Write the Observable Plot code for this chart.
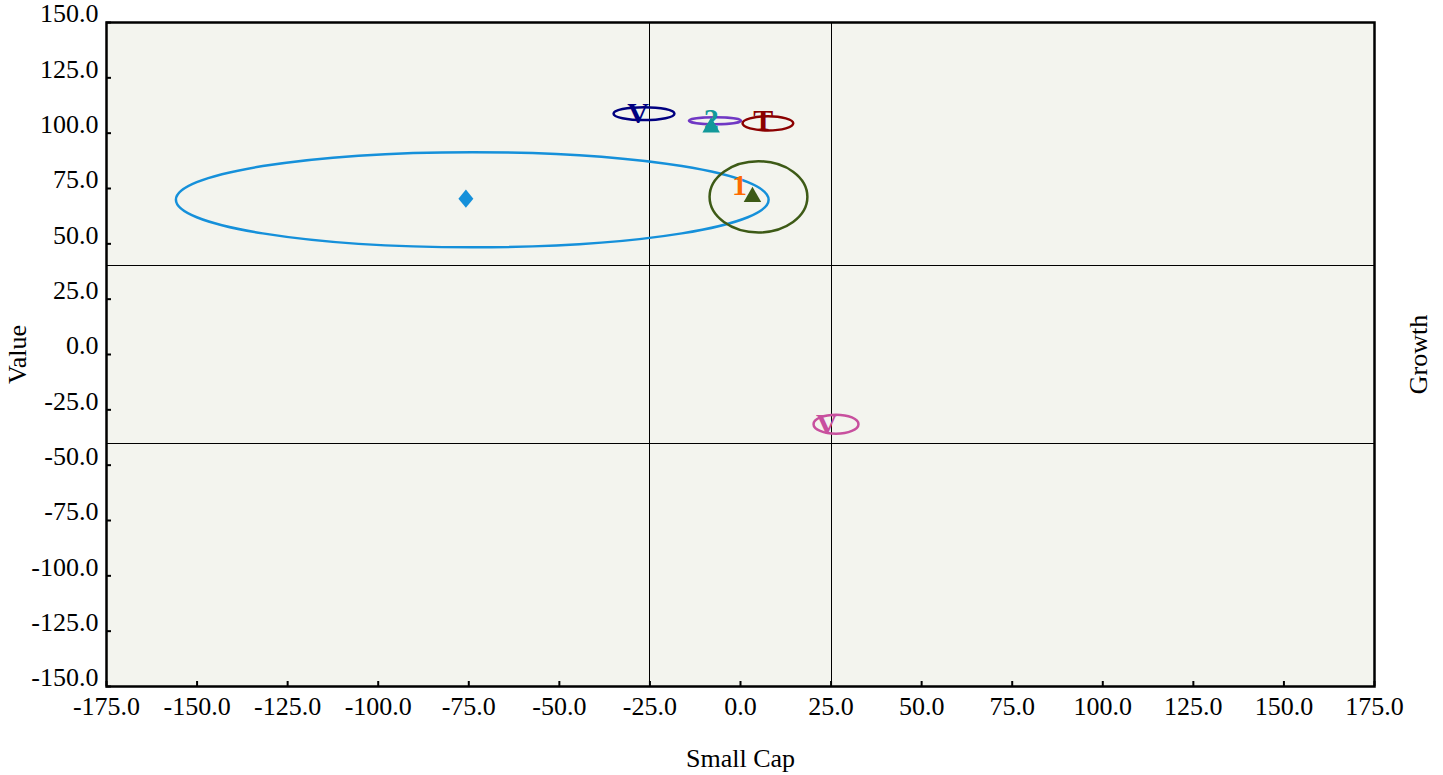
<!DOCTYPE html>
<html>
<head>
<meta charset="utf-8">
<script src="https://cdn.jsdelivr.net/npm/d3@7"></script>
<script src="https://cdn.jsdelivr.net/npm/@observablehq/plot@0.6"></script>
<style>
  html, body { margin: 0; padding: 0; background: #ffffff; }
  #chart svg { display: block; }
</style>
</head>
<body>
<div id="chart"></div>
<script>
// ---- data ----
const xTicks = [-175, -150, -125, -100, -75, -50, -25, 0, 25, 50, 75, 100, 125, 150, 175];
const yTicks = [-150, -125, -100, -75, -50, -25, 0, 25, 50, 75, 100, 125, 150];
const refX = [-25, 25];
const refY = [40, -40];

const seriesNames  = ["blue", "olive", "orange", "navy", "purple", "darkred", "pink", "teal"];
const seriesColors = ["#1590da", "#3d5a16", "#ff6a00", "#000080", "#7038c4", "#8b0000", "#c8509e", "#13999a"];
const seriesMarker = ["diamond", "triangle", "1", "V", "", "T", "V", "2"];
const markerX = [-75.8, 3.3, -0.3, -28.3, null, 6.3, 23.8, -8.1];
const markerY = [70.4, 71.2, 76.5, 108.8, null, 105.9, -31.4, 106.0];
// confidence ellipses: centre and semi-axes in data units
const ellCX = [-73.9, 5.1, null, -26.5, -6.9, 7.7, 26.5, null];
const ellCY = [69.7, 71.0, null, 108.6, 105.4, 104.2, -31.7, null];
const ellRX = [81.8, 13.5, null, 8.4, 7.2, 7.0, 6.2, null];
const ellRY = [21.5, 16.1, null, 2.9, 1.6, 3.2, 4.3, null];
// extra teal triangle under the "2"
const tealTriX = [-8.1];
const tealTriY = [102.6];

// ---- build tables ----
const rows = seriesNames.map((name, i) => ({
  name, color: seriesColors[i], marker: seriesMarker[i],
  x: markerX[i], y: markerY[i],
  cx: ellCX[i], cy: ellCY[i], rx: ellRX[i], ry: ellRY[i]
}));
const ellRows = rows.filter(r => r.cx != null);
const textRows = rows.filter(r => r.x != null && r.marker !== "diamond" && r.marker !== "triangle" && r.marker !== "");
const diamondRows = rows.filter(r => r.marker === "diamond");
const triRows = rows.filter(r => r.marker === "triangle")
  .concat(tealTriX.map((x, i) => ({x, y: tealTriY[i], color: seriesColors[7]})));

const diamondSymbol = {
  draw(ctx, size) {
    const r = Math.sqrt(size / Math.PI);
    const h = r * 1.4, w = r * 1.15;
    ctx.moveTo(0, -h); ctx.lineTo(w, 0); ctx.lineTo(0, h); ctx.lineTo(-w, 0); ctx.closePath();
  }
};

const ellipseMark = (index, scales) => {
  const g = d3.create("svg:g").attr("fill", "none").attr("stroke-width", 2.5);
  for (const e of ellRows) {
    const cx = scales.x(e.cx), cy = scales.y(e.cy);
    g.append("ellipse")
      .attr("cx", cx).attr("cy", cy)
      .attr("rx", Math.abs(scales.x(e.cx + e.rx) - cx))
      .attr("ry", Math.abs(scales.y(e.cy + e.ry) - cy))
      .attr("stroke", e.color);
  }
  return g.node();
};

const FONT = "Liberation Serif, Times New Roman, serif";
const fmt = d => d.toFixed(1);

const plot = Plot.plot({
  width: 1443,
  height: 775,
  marginLeft: 106,
  marginRight: 69,
  marginTop: 22,
  marginBottom: 89,
  style: { fontFamily: FONT, fontSize: "26px", color: "#000", background: "#ffffff" },
  x: { domain: [-175, 175], ticks: xTicks, tickFormat: fmt },
  y: { domain: [-150, 150], ticks: yTicks, tickFormat: fmt },
  marks: [
    Plot.frame({ fill: "#f3f4ee" }),
    Plot.ruleX(refX, { stroke: "#000", strokeWidth: 1, shapeRendering: "crispEdges" }),
    Plot.ruleY(refY, { stroke: "#000", strokeWidth: 1, shapeRendering: "crispEdges" }),
    ellipseMark,
    Plot.dot(diamondRows, { x: "x", y: "y", symbol: diamondSymbol, r: 6.5, fill: d => d.color, stroke: "none" }),
    Plot.dot(triRows, { x: "x", y: "y", symbol: "triangle", r: 6.5, fill: d => d.color, stroke: "none" }),
    Plot.text(textRows, { x: "x", y: "y", text: "marker", fill: d => d.color, fontSize: 30, fontWeight: "bold", fontFamily: FONT }),
    // tick marks (inward)
    Plot.axisX({ ticks: xTicks, tickFormat: () => "", tickSize: -5, strokeWidth: 2, label: null }),
    Plot.axisY({ ticks: yTicks, tickFormat: () => "", tickSize: -5, strokeWidth: 2, label: null }),
    // tick labels
    Plot.axisX({ ticks: xTicks, tickFormat: fmt, tickSize: 0, tickPadding: 10.5, label: null, fontSize: 26 }),
    Plot.axisY({ ticks: yTicks, tickFormat: fmt, tickSize: 0, tickPadding: 8, label: null, dy: -8.5, fontSize: 26 }),
    Plot.text(["Small Cap"], { frameAnchor: "bottom", lineAnchor: "middle", textAnchor: "middle", dy: 72, fontSize: 26 }),
    Plot.text(["Value"], { frameAnchor: "left", lineAnchor: "middle", textAnchor: "middle", dx: -89, rotate: -90, fontSize: 26 }),
    Plot.text(["Growth"], { frameAnchor: "right", lineAnchor: "middle", textAnchor: "middle", dx: 44, rotate: -90, fontSize: 26 }),
    Plot.frame({ stroke: "#000", strokeWidth: 2.5 })
  ]
});
document.getElementById("chart").appendChild(plot);
</script>
</body>
</html>
